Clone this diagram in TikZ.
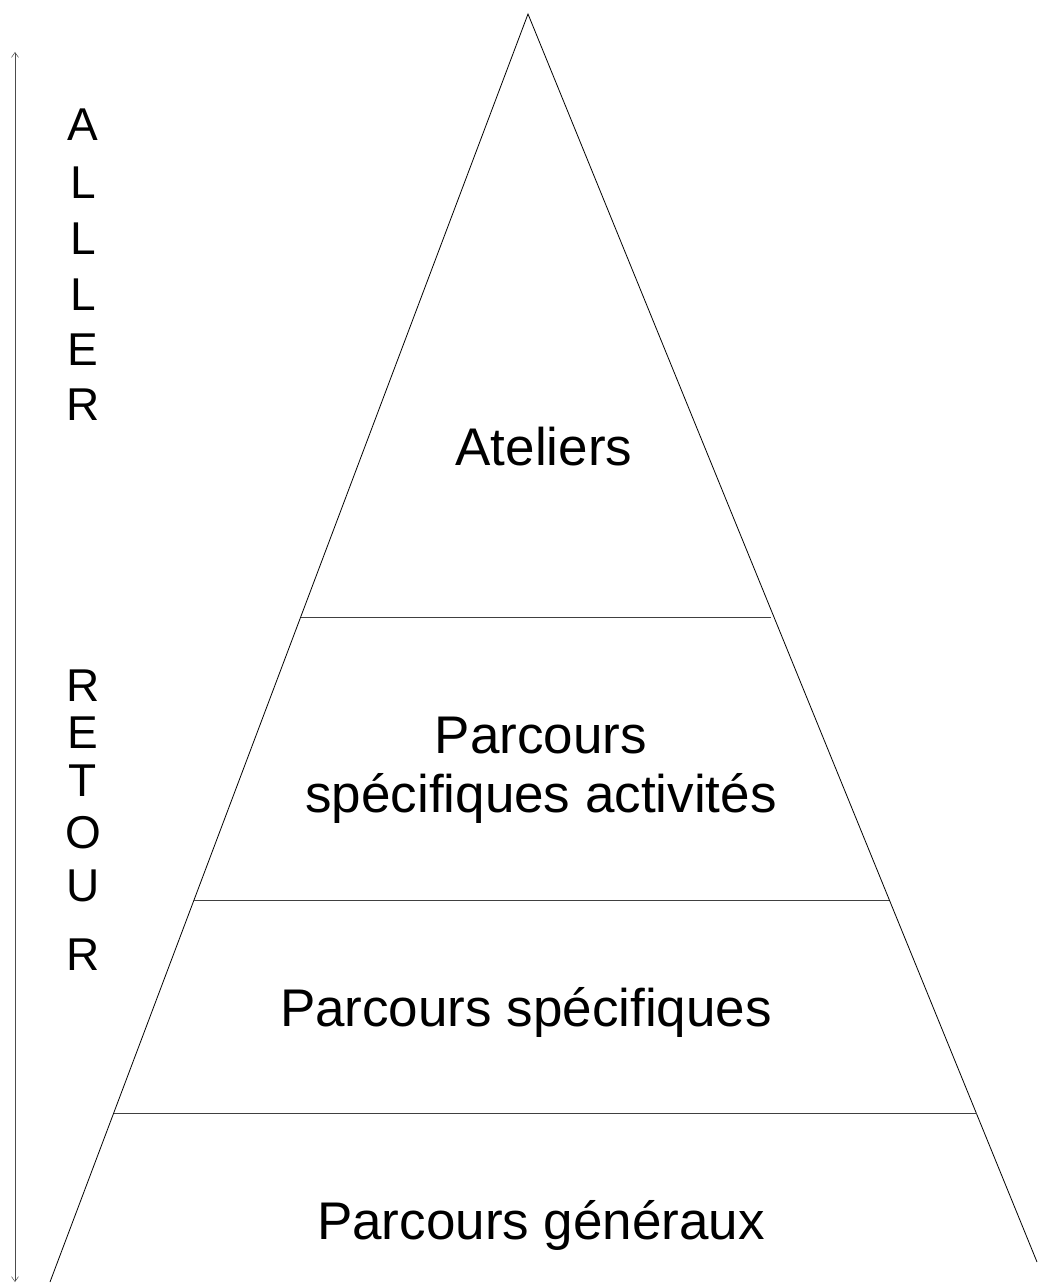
\documentclass[tikz,border=0pt]{standalone}
\usepackage{fontspec}
\setmainfont{Liberation Sans}
\usetikzlibrary{arrows.meta}
\begin{document}
\begin{tikzpicture}[x=1pt,y=-1pt,
  edge/.style={line width=0.8pt, black},
  tier/.style={line width=0.8pt, black!75},
  lbl/.style={font=\fontsize{53}{58}\selectfont, inner sep=0pt, align=center},
  letter/.style={font=\fontsize{46}{50}\selectfont, inner sep=0pt, anchor=center}]
\useasboundingbox (0,0) rectangle (1038,1284);
% triangle corners
\coordinate (apex) at (528,14);
\coordinate (bl) at (50,1282);
\coordinate (br) at (1037,1262);
\draw[edge] (bl) -- (apex) -- (br);
% tier boundaries
\coordinate (l1) at (301,617);  \coordinate (r1) at (771,617);
\coordinate (l2) at (194,900);  \coordinate (r2) at (889,900);
\coordinate (l3) at (114,1113); \coordinate (r3) at (977,1113);
\draw[tier] (l1) -- (r1);
\draw[tier] (l2) -- (r2);
\draw[tier] (l3) -- (r3);
% labels
\node[lbl] (t1) at (544,447) {Ateliers};
\node[lbl] (t2a) at (541,736) {Parcours};
\node[lbl] (t2b) at (541,798) {spécifiques activités};
\node[lbl] (t3) at (526,1012) {Parcours spécifiques};
\node[lbl] (t4) at (541,1225) {Parcours généraux};
% double arrow on the left
\coordinate (atop) at (15,52);
\coordinate (abot) at (15,1282);
\draw[line width=0.5pt, black!70, {Straight Barb[length=5pt,width=7pt]}-{Straight Barb[length=5pt,width=7pt]}] (atop) -- (abot);
% vertical words
\node[letter] (a1) at (83,125) {A};
\node[letter] (a2) at (83,183) {L};
\node[letter] (a3) at (83,239) {L};
\node[letter] (a4) at (83,295) {L};
\node[letter] (a5) at (83,350) {E};
\node[letter] (a6) at (83,405) {R};
\node[letter] (b1) at (83,686) {R};
\node[letter] (b2) at (83,733) {E};
\node[letter] (b3) at (83,781) {T};
\node[letter] (b4) at (83,833) {O};
\node[letter] (b5) at (83,886) {U};
\node[letter] (b6) at (83,955) {R};
\end{tikzpicture}
\end{document}
